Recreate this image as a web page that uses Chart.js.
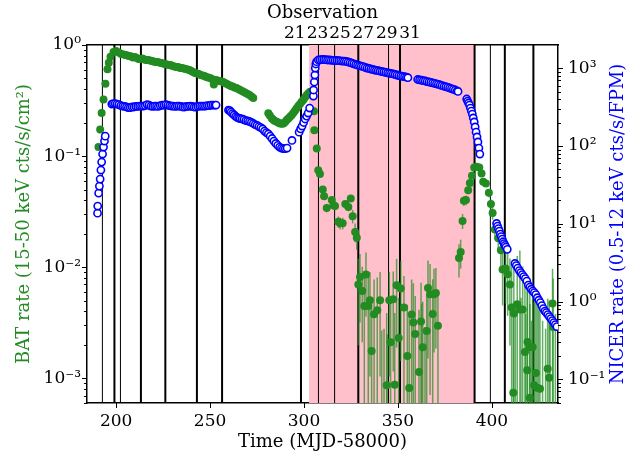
<!DOCTYPE html>
<html>
<head>
<meta charset="utf-8">
<script src="https://cdn.jsdelivr.net/npm/chart.js@4.4.0/dist/chart.umd.min.js"></script>
<style>
  html, body { margin: 0; padding: 0; background: #fff; }
  #wrap { width: 643px; height: 457px; }
</style>
</head>
<body>
<div id="wrap"><canvas id="c" width="643" height="457"></canvas></div>
<script>
// BAT light curve (MJD-58000, rate, error)
const batTime = [
  190.6,191.5,192.3,193.3,194.3,195.4,196.1,197.0,198.6,200.0,201.4,202.7,
  204,205,206,207,208,209,210,211,212,213,214,215,216,217,218,219,220,221,222,223,
  224,225,226,227,228,229,230,231,232,233,234,235,236,237,238,239,240,241,242,243,
  244,245,246,247,248,249,250,251,252,253,254,255,256,257,258,259,260,261,262,263,
  264,265,266,267,268,269,270,271,272,273,
  281.0,281.8,282.8,283.6,284.5,285.5,286.4,287.3,288.2,289.1,290.0,290.8,291.7,
  292.6,293.5,294.4,295.3,296.1,297.0,297.9,298.8,299.7,300.6,301.5,302.4,303.2,
  305.3,305.5,306.8,307.6,308.5,310.0,310.7,312.1,314.8,315.6,316.5,318.3,319.2,
  320.6,322.0,323.6,324.9,325.9,327.2,328.1,
  328.9,329.8,331.0,333.0,332.1,334.2,335.1,336.0,337.3,339.0,340.5,344.0,345.4,
  346.1,347.5,348.3,349.3,350.4,351.5,353.2,355.0,356.0,357.3,358.2,359.2,361.2,
  362.3,363.2,365.3,366.0,367.1,368.5,369.2,370.2,371.3,
  341.4,342.6,344.3,362.6,364.4,
  382.5,383.4,384.4,385.1,386.2,387.4,388.3,389.4,
  390.6,391.9,393.3,394.5,395.4,396.8,398.4,399.5,400.4,401.6,403.4,404.8,405.7,
  407.3,408.4,409.6,410.5,411.7,413.5,414.9,416.4,417.6,419.0,418.8,420.2,421.7,
  422.5,423.4,424.1,425.6,429.7,430.5,432.3,432.6,411.4,420.2,
  412.5,415.5,418.0,421.0,424.9,427.0,428.6,431.0,433.8
];
const batRate = [
  0.121,0.174,0.244,0.324,0.448,0.604,0.693,0.785,0.865,0.883,0.856,0.83,
  0.821,0.813,0.804,0.796,0.788,0.772,0.78,0.764,0.748,0.748,0.756,0.74,0.733,0.733,0.725,0.718,0.71,0.703,0.703,0.696,
  0.689,0.681,0.674,0.667,0.66,0.66,0.647,0.64,0.634,0.634,0.621,0.621,0.614,0.608,0.602,0.596,0.583,0.571,0.559,0.553,
  0.548,0.537,0.531,0.525,0.515,0.509,0.504,0.494,0.44,0.484,0.479,0.474,0.469,0.464,0.455,0.445,0.436,0.427,0.423,0.414,
  0.41,0.401,0.393,0.385,0.377,0.369,0.362,0.354,0.344,0.333,
  0.243,0.232,0.219,0.212,0.207,0.204,0.2,0.197,0.196,0.197,0.203,0.211,0.218,
  0.226,0.234,0.245,0.257,0.269,0.283,0.295,0.308,0.322,0.338,0.355,0.368,0.38,
  0.254,0.171,0.117,0.0748,0.0689,0.0501,0.0436,0.0342,0.0402,0.0362,0.0355,0.0256,0.0249,
  0.0249,0.037,0.0349,0.0416,0.0288,0.0208,0.0184,
  0.00698,0.00818,0.00611,0.00859,0.00448,0.00448,0.00504,0.00176,0.00377,0.0041,0.00504,0.000865,0.00504,
  0.00211,0.00515,0.000877,0.00689,0.00231,0.00643,0.00434,0.00159,0.000818,0.00375,0.00318,0.00251,0.00114,
  0.00324,0.0019,0.00267,0.00651,0.00571,0.00379,0.00571,0.00586,0.00298,
  0.0003,0.0003,0.0003,0.0003,0.0003,
  0.0121,0.0137,0.0261,0.0396,0.0402,0.0494,0.0574,0.0665,
  0.0791,0.0801,0.0791,0.0699,0.0587,0.0568,0.0467,0.037,0.0308,0.0219,0.0182,0.0142,0.00953,
  0.00973,0.00865,0.00698,0.00434,0.00383,0.00464,0.00416,0.00416,0.00173,0.00212,0.00118,0.00191,0.00191,
  0.000865,0.00112,0.000824,0.000807,0.00122,0.00101,0.00471,0.0029,0.000743,0.00067,
  0.0003,0.0003,0.0003,0.0003,0.0003,0.0003,0.0003,0.0003,0.0003
];
const batErr = [
  0.006,0.006,0.007,0.008,0.008,0.009,0.009,0.01,0.01,0.01,0.01,0.01,
  0.01,0.01,0.01,0.01,0.01,0.01,0.01,0.01,0.01,0.01,0.01,0.01,0.01,0.01,0.01,0.01,0.01,0.01,0.01,0.01,
  0.01,0.01,0.01,0.01,0.01,0.01,0.01,0.01,0.01,0.01,0.01,0.01,0.01,0.01,0.01,0.01,0.01,0.01,0.01,0.01,
  0.01,0.01,0.01,0.01,0.01,0.01,0.01,0.01,0.01,0.01,0.01,0.01,0.01,0.01,0.01,0.01,0.01,0.01,0.01,0.01,
  0.01,0.01,0.01,0.01,0.01,0.01,0.01,0.01,0.01,0.01,
  0.006,0.006,0.006,0.006,0.006,0.006,0.006,0.006,0.006,0.006,0.006,0.006,0.006,
  0.006,0.006,0.006,0.006,0.006,0.006,0.006,0.006,0.006,0.006,0.006,0.006,0.006,
  0.004,0.004,0.004,0.003,0.003,0.003,0.003,0.003,0.003,0.003,0.003,0.003,0.003,
  0.003,0.003,0.003,0.003,0.004,0.004,0.004,
  0.005,0.005,0.004,0.005,0.004,0.004,0.004,0.003,0.004,0.004,0.004,0.003,0.004,
  0.003,0.004,0.003,0.005,0.003,0.005,0.004,0.003,0.003,0.004,0.004,0.003,0.003,
  0.004,0.003,0.003,0.005,0.005,0.004,0.004,0.004,0.003,
  0.0024,0.0025,0.0022,0.0044,0.0026,
  0.004,0.004,0.004,0.004,0.004,0.004,0.004,0.004,
  0.004,0.004,0.004,0.004,0.004,0.004,0.004,0.004,0.004,0.004,0.0045,0.0045,0.005,
  0.005,0.005,0.005,0.006,0.006,0.008,0.01,0.006,0.005,0.006,0.005,0.006,0.005,
  0.004,0.005,0.004,0.004,0.004,0.004,0.005,0.005,0.004,0.004,
  0.004,0.005,0.0035,0.003,0.004,0.003,0.0025,0.003,0.0035
];

// NICER light curve (MJD-58000, rate)
const nicerTime = [
  190.1,190.2,190.7,191.1,191.5,191.9,192.3,192.8,193.3,193.8,194.2,
  197.7,198.5,199.5,200.5,201.5,202.5,203.5,204.5,205.5,206.5,207.5,208.5,209.5,210.5,211.5,
  212.5,213.5,214.5,215.5,216.5,217.5,218.5,219.5,220.5,221.5,222.5,223.5,224.5,225.5,226.5,
  227.5,228.5,229.5,230.5,231.5,232.5,233.5,234.5,235.5,236.5,237.5,238.5,239.5,240.5,241.5,
  242.5,243.5,244.5,245.5,246.5,247.5,248.5,249.5,250.5,251.5,252.5,253.2,
  259.8,260.5,261.2,262.0,262.8,263.6,264.4,265.2,266.0,267,268,269,270,271,272,273,274,275,
  276,277,278,279,280,281,282,283,284,285,286,287,288,289,290,291,293.6,
  297.4,298.2,299.0,299.8,300.6,301.4,302.2,303.0,305.0,305.1,305.5,305.8,306.0,306.3,306.7,
  307.6,308.5,309.5,310.5,311.5,312.5,313.5,314.5,315.5,316.5,317.5,318.5,319.5,320.5,321.5,
  322.5,323.5,324.5,325.5,326.5,327.5,328.5,329.5,330.5,331.5,332.5,333.5,334.5,335.5,336.5,
  337.5,338.5,339.5,340.5,341.5,342.5,343.5,344.5,345.5,346.5,347.5,348.5,349.5,350.5,351.5,
  352.5,353.5,354.5,355.3,
  360.5,361.5,362.5,363.5,364.5,365.5,366.5,367.5,368.5,369.5,370.5,371.5,372.5,373.5,374.5,
  375.5,376.5,377.5,378.5,379.5,380.5,381.5,382.0,
  386.6,387.1,387.6,388.1,388.6,389.1,389.6,390.1,390.6,391.1,391.6,392.1,392.6,393.1,393.6,
  402.5,403.0,403.5,404.0,404.5,405.0,405.5,406.0,406.5,407.0,407.5,408.2,
  412.3,413.0,413.8,414.6,415.4,416.2,417.0,417.8,418.6,419.4,420.2,421.0,421.8,422.6,423.4,
  424.2,425.0,425.8,426.6,427.4,428.2,429.0,429.8,430.6,431.4,432.2,433.0,433.8,434.6
];
const nicerRate = [
  13.7,16.9,24.8,30.5,37.6,49.1,62.2,78.9,97.1,116,134,
  347,352,352,347,342,332,327,323,318,313,313,318,318,323,323,
  327,327,327,332,342,337,327,323,327,327,323,332,337,337,342,
  337,332,327,327,323,327,327,323,318,318,323,323,327,323,318,
  318,323,327,327,327,327,332,332,337,337,337,337,
  290,286,274,262,251,240,233,229,226,223,219,213,210,207,201,195,189,184,
  178,173,166,156,149,143,134,125,116,108,102,97.1,94.2,92.9,92.9,94.2,118,
  151,166,181,201,223,243,266,308,440,526,667,820,1009,1137,1217,
  1279,1287,1298,1298,1290,1279,1279,1270,1266,1260,1260,1253,1249,1241,1234,
  1224,1206,1188,1164,1143,1120,1097,1081,1065,1050,1028,1009,995,980,966,
  951,943,932,918,907,897,886,875,865,855,845,834,820,808,796,
  789,780,769,757,
  718,708,702,693,687,676,667,659,651,641,632,623,610,598,588,
  580,570,558,548,537,526,514,504,
  403,379,358,337,308,282,258,230,204,176,151,131,113,94.2,78.9,
  10.1,9.35,8.67,8.05,7.37,6.84,6.35,5.87,5.56,5.27,5.01,4.69,
  3.09,2.90,2.69,2.50,2.36,2.22,2.09,1.97,1.83,1.63,1.53,1.44,1.36,1.30,1.23,
  1.12,1.04,0.968,0.885,0.811,0.753,0.72,0.678,0.640,0.603,0.568,0.536,0.505,0.475
];

// observation epochs (vertical lines) and shaded interval
const obsThick = [199.1, 213.2, 226.2, 243.0, 256.4, 298.4, 328.9, 351.1, 390.8, 406.9, 422.1];
const obsThin = [192.7, 202.3, 307.7, 316.3, 345.0, 399.2];
const shadeRange = [302.7, 390.8];

// axes
const timeRange = [184.5, 435.2];
const timeTicks = [200, 250, 300, 350, 400];
const obsTickTimes = [295.1, 307.2, 319.2, 331.6, 344.1, 356.4];
const obsLabels = ['21', '23', '25', '27', '29', '31'];
const batRange = [6e-4, 1];
const nicerRange = [0.0495, 1995];

const FONT = 'DejaVu Serif';
const GREEN = '#228b22';
const BLUE = '#0000ff';

const sup = {'-': '\u207b', '0': '\u2070', '1': '\u00b9', '2': '\u00b2', '3': '\u00b3',
  '4': '\u2074', '5': '\u2075', '6': '\u2076', '7': '\u2077', '8': '\u2078', '9': '\u2079'};

function powLabel(v) {
  const l = Math.log10(v);
  const e = Math.round(l);
  if (Math.abs(l - e) > 1e-6) return '';
  return '10' + String(e).split('').map(c => sup[c]).join('');
}

function logTicks(min, max) {
  const out = [];
  for (let e = Math.floor(Math.log10(min)); e <= Math.ceil(Math.log10(max)); e++) {
    for (let m = 1; m < 10; m++) {
      const v = m * Math.pow(10, e);
      if (v >= min * 0.999 && v <= max * 1.001) out.push({value: v, major: m === 1});
    }
  }
  return out;
}

const backdrop = {
  id: 'backdrop',
  beforeDatasetsDraw(chart) {
    const {ctx, chartArea: a, scales: {x, y}} = chart;
    ctx.save();
    ctx.beginPath();
    ctx.rect(a.left, a.top, a.right - a.left, a.bottom - a.top);
    ctx.clip();

    const s0 = x.getPixelForValue(shadeRange[0]);
    const s1 = x.getPixelForValue(shadeRange[1]);
    ctx.fillStyle = '#ffc0cb';
    ctx.fillRect(s0, a.top, s1 - s0, a.bottom - a.top);

    ctx.strokeStyle = '#000';
    [[obsThin, 1], [obsThick, 2]].forEach(([list, w]) => {
      ctx.lineWidth = w;
      list.forEach(t => {
        const px = x.getPixelForValue(t);
        ctx.beginPath();
        ctx.moveTo(px, a.top);
        ctx.lineTo(px, a.bottom);
        ctx.stroke();
      });
    });

    ctx.strokeStyle = 'rgba(34,139,34,0.7)';
    ctx.lineWidth = 1.5;
    batTime.forEach((t, i) => {
      const px = x.getPixelForValue(t);
      const top = y.getPixelForValue(batRate[i] + batErr[i]);
      const low = batRate[i] - batErr[i];
      const bot = low > 0 ? y.getPixelForValue(low) : a.bottom + 5;
      ctx.beginPath();
      ctx.moveTo(px, bot);
      ctx.lineTo(px, top);
      ctx.stroke();
    });
    ctx.restore();
  }
};

const tickMarks = {
  id: 'tickMarks',
  afterDraw(chart) {
    const {ctx, chartArea: a, scales} = chart;
    ctx.save();
    ctx.strokeStyle = '#000';
    ctx.lineWidth = 1;
    scales.y.ticks.forEach(t => {
      const py = Math.round(scales.y.getPixelForValue(t.value)) + 0.5;
      const len = t.major ? 5 : 3;
      ctx.beginPath(); ctx.moveTo(a.left - len, py); ctx.lineTo(a.left, py); ctx.stroke();
    });
    scales.y2.ticks.forEach(t => {
      const py = Math.round(scales.y2.getPixelForValue(t.value)) + 0.5;
      const len = t.major ? 5 : 3;
      ctx.beginPath(); ctx.moveTo(a.right, py); ctx.lineTo(a.right + len, py); ctx.stroke();
    });
    scales.x.ticks.forEach(t => {
      const px = Math.round(scales.x.getPixelForValue(t.value)) + 0.5;
      ctx.beginPath(); ctx.moveTo(px, a.bottom); ctx.lineTo(px, a.bottom + 5); ctx.stroke();
    });

    // right axis title, reading bottom to top
    const s = scales.y2;
    ctx.translate(s.right - 25, (a.top + a.bottom) / 2);
    ctx.rotate(-Math.PI / 2);
    ctx.fillStyle = BLUE;
    ctx.font = '18px "' + FONT + '"';
    ctx.textAlign = 'center';
    ctx.textBaseline = 'middle';
    ctx.fillText('NICER rate (0.5-12 keV cts/s/FPM)', 0, 0);
    ctx.restore();
  }
};

const noGrid = {display: false, drawTicks: false};
const border = {display: true, color: '#000', width: 1.5};
const tickFont = {family: FONT, size: 17};

new Chart(document.getElementById('c'), {
  type: 'scatter',
  data: {
    datasets: [
      {
        label: 'NICER',
        data: nicerTime.map((t, i) => ({x: t, y: nicerRate[i]})),
        xAxisID: 'x', yAxisID: 'y2',
        pointRadius: 3.6, pointBorderWidth: 1.6,
        pointBackgroundColor: '#fff', pointBorderColor: BLUE,
        clip: 0, order: 1
      },
      {
        label: 'BAT',
        data: batTime.map((t, i) => ({x: t, y: batRate[i]})),
        xAxisID: 'x', yAxisID: 'y',
        pointRadius: 4, pointBorderWidth: 0,
        pointBackgroundColor: GREEN, pointBorderColor: GREEN,
        clip: 0, order: 2
      }
    ]
  },
  options: {
    responsive: false,
    animation: false,
    devicePixelRatio: 1,
    events: [],
    layout: {padding: 0},
    plugins: {legend: {display: false}, tooltip: {enabled: false}},
    scales: {
      x: {
        type: 'linear', position: 'bottom', bounds: 'data',
        min: timeRange[0], max: timeRange[1],
        afterBuildTicks: s => { s.ticks = timeTicks.map(v => ({value: v})); },
        afterFit: s => { s.height = 54; },
        grid: noGrid, border: border,
        ticks: {color: '#000', font: tickFont, padding: 8, maxRotation: 0, autoSkip: false},
        title: {display: true, text: 'Time (MJD-58000)', color: '#000',
          font: {family: FONT, size: 18}, padding: {top: 0, bottom: 4}}
      },
      x2: {
        type: 'linear', position: 'top', bounds: 'data',
        min: timeRange[0], max: timeRange[1],
        afterBuildTicks: s => { s.ticks = obsTickTimes.map(v => ({value: v})); },
        afterFit: s => { s.height = 45; },
        grid: noGrid, border: border,
        ticks: {color: '#000', font: tickFont, padding: 1, maxRotation: 0, autoSkip: false,
          callback: (v, i) => obsLabels[i]},
        title: {display: true, text: 'Observation', color: '#000',
          font: {family: FONT, size: 18}, padding: {top: 3, bottom: 0}}
      },
      y: {
        type: 'logarithmic', position: 'left', bounds: 'data',
        min: batRange[0], max: batRange[1],
        afterBuildTicks: s => { s.ticks = logTicks(batRange[0], batRange[1]); },
        afterFit: s => { s.width = 87; },
        grid: noGrid, border: border,
        ticks: {color: '#000', font: tickFont, padding: 6, autoSkip: false, callback: v => powLabel(v)},
        title: {display: true, text: 'BAT rate (15-50 keV cts/s/cm\u00b2)', color: GREEN,
          font: {family: FONT, size: 18}, padding: {top: 14, bottom: 0}}
      },
      y2: {
        type: 'logarithmic', position: 'right', bounds: 'data',
        min: nicerRange[0], max: nicerRange[1],
        afterBuildTicks: s => { s.ticks = logTicks(nicerRange[0], nicerRange[1]); },
        afterFit: s => { s.width = 85; },
        grid: noGrid, border: border,
        ticks: {color: '#000', font: tickFont, padding: 10, autoSkip: false, callback: v => powLabel(v)},
        title: {display: false}
      }
    }
  },
  plugins: [backdrop, tickMarks]
});
</script>
</body>
</html>
